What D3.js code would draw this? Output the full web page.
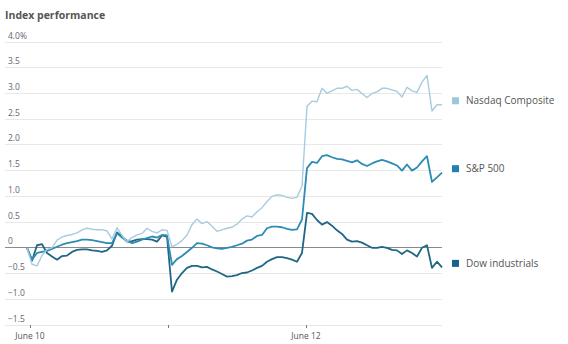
<!DOCTYPE html>
<html><head><meta charset="utf-8">
<script src="https://cdn.jsdelivr.net/npm/d3@7"></script>
<style>body{margin:0;background:#fff}svg{display:block}</style>
</head><body><svg id="c" width="568" height="344"></svg>
<script>
// Sampling: session days since June 10 open; regular sampling
const sampleStart = -0.0217, sampleStep = 0.03623;
const seriesNames = ["Nasdaq Composite", "S&P 500", "Dow industrials"];
const nasdaq = [0.0,-0.32,-0.35,-0.15,-0.03,0.0,0.15,0.21,0.24,0.26,0.29,0.35,0.38,0.36,0.35,0.35,0.33,0.17,0.39,0.24,0.12,0.2,0.25,0.28,0.38,0.32,0.29,0.35,0.34,
  0.02,0.07,0.14,0.25,0.45,0.56,0.47,0.51,0.42,0.32,0.35,0.38,0.4,0.46,0.56,0.62,0.6,0.7,0.78,0.9,1.0,1.03,1.02,0.98,0.96,0.98,1.2,
  2.75,2.85,2.84,3.1,3.0,3.05,3.1,3.1,3.14,3.06,3.08,3.0,2.92,3.0,3.03,3.1,3.1,3.07,3.04,2.93,3.12,3.05,3.02,3.22,3.35,2.66,2.78,2.78];
const sp500 = [0.0,-0.23,-0.1,-0.08,-0.06,-0.02,0.02,0.06,0.09,0.11,0.13,0.16,0.16,0.15,0.13,0.11,0.09,0.09,0.28,0.2,0.14,0.09,0.12,0.16,0.19,0.22,0.2,0.25,0.24,
  -0.33,-0.22,-0.16,-0.08,0.0,0.09,0.08,0.05,0.01,-0.01,-0.02,0.0,0.02,0.05,0.08,0.14,0.16,0.23,0.25,0.38,0.41,0.41,0.4,0.37,0.35,0.36,0.55,
  1.55,1.67,1.65,1.78,1.8,1.76,1.73,1.72,1.69,1.66,1.7,1.63,1.59,1.64,1.68,1.71,1.68,1.64,1.6,1.5,1.62,1.5,1.56,1.68,1.78,1.28,1.37,1.46];
const dow = [0.0,-0.25,0.05,0.07,-0.1,-0.17,-0.23,-0.16,-0.15,-0.08,-0.04,-0.03,-0.03,-0.05,-0.06,-0.08,-0.05,0.04,0.3,0.22,0.12,0.13,0.16,0.17,0.17,0.16,0.12,0.24,0.22,
  -0.85,-0.62,-0.49,-0.39,-0.35,-0.35,-0.38,-0.37,-0.42,-0.46,-0.51,-0.56,-0.55,-0.53,-0.49,-0.48,-0.44,-0.39,-0.35,-0.27,-0.22,-0.18,-0.18,-0.2,-0.23,-0.27,-0.1,
  0.68,0.66,0.54,0.45,0.5,0.43,0.34,0.27,0.16,0.12,0.13,0.1,0.05,0.0,0.0,0.02,0.0,-0.04,-0.05,-0.12,-0.05,-0.1,-0.17,0.0,0.05,-0.39,-0.27,-0.38];
const yTicks = [4.0,3.5,3.0,2.5,2.0,1.5,1.0,0.5,0,-0.5,-1.0,-1.5];
const xTickDays = [0,1,2];
const xTickLabels = ["June 10","","June 12"];
const colors = ["#a7cce0","#2e8bb3","#1f6784"];
const legendColors = ["#9fc6dd","#1f80b1","#1b6288"];

const svg = d3.select("#c");
const font = "'Open Sans', sans-serif";
const x = d3.scaleLinear().domain([0,3]).range([30,444]);
const y = d3.scaleLinear().domain([-1.5,4]).range([325,42]);
const gridX0 = 5, gridX1 = 442;

svg.append("text").attr("x",5).attr("y",19).attr("font-family",font).attr("font-weight",700)
  .attr("font-size",10.5).attr("fill","#555").text("Index performance");

const fmt = v => v===4 ? "4.0%" : (v===0 ? "0" : d3.format(".1f")(v));
const g = svg.append("g");
yTicks.forEach(v=>{
  g.append("line").attr("x1",gridX0).attr("x2",gridX1).attr("y1",y(v)).attr("y2",y(v))
    .attr("stroke", v===0 ? "#8a8a8a" : "#e8e8e8").attr("stroke-width",1).attr("shape-rendering","crispEdges");
  g.append("text").attr("x",8).attr("y",y(v)-3.5).attr("font-family",font).attr("font-size",8.5)
    .attr("fill","#666").text(fmt(v));
});

xTickDays.forEach((d,i)=>{
  g.append("line").attr("x1",x(d)).attr("x2",x(d)).attr("y1",325).attr("y2",328)
    .attr("stroke","#777").attr("stroke-width",1).attr("shape-rendering","crispEdges");
  if(xTickLabels[i]) g.append("text").attr("x",x(d)).attr("y",339).attr("text-anchor","middle")
    .attr("font-family",font).attr("font-size",8.5).attr("fill","#555").text(xTickLabels[i]);
});

const all = [nasdaq, sp500, dow];
const line = d3.line().x((v,i)=>x(sampleStart+i*sampleStep)).y(v=>y(v)).curve(d3.curveLinear);
const widths = [1.4,1.8,1.8];
[2,1,0].forEach(k=>{
  svg.append("path").attr("d",line(all[k])).attr("fill","none").attr("stroke",colors[k])
    .attr("stroke-width",widths[k]).attr("stroke-linejoin","round");
});

all.forEach((s,k)=>{
  const ly = y(s[s.length-1]) - 4;
  svg.append("rect").attr("x",452).attr("y",ly-3.5).attr("width",7).attr("height",7).attr("fill",legendColors[k]);
  svg.append("text").attr("x",466).attr("y",ly+3.5).attr("font-family",font).attr("font-size",10)
    .attr("fill","#555").text(seriesNames[k]);
});
</script></body></html>
